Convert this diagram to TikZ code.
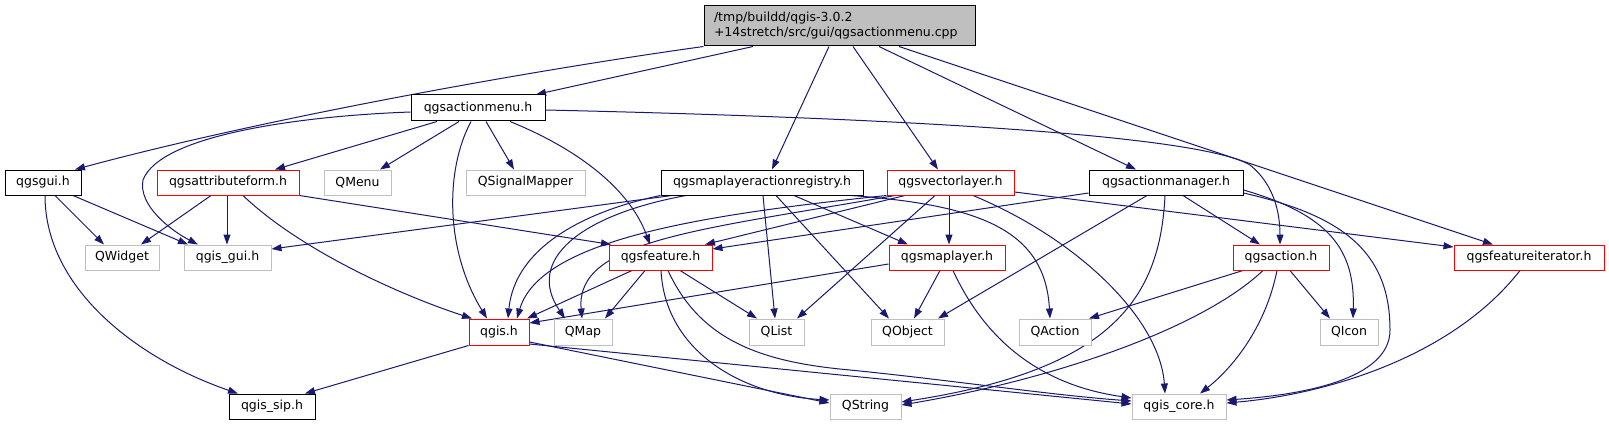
\documentclass[tikz,border=0pt]{standalone}
\usepackage{fontspec}
\setmainfont{DejaVu Sans}
\usetikzlibrary{arrows.meta}
\pgfdeclarelayer{bg}
\pgfsetlayers{bg,main}
\definecolor{edgeblue}{HTML}{191970}
\definecolor{greyborder}{HTML}{BFBFBF}
\definecolor{rootfill}{HTML}{BFBFBF}
\definecolor{redborder}{HTML}{FF0000}
\tikzset{
  box/.style={rectangle, line width=1pt, inner sep=0pt, fill=white, font=\fontsize{12.5}{15}\selectfont},
  blacknode/.style={box, draw=black},
  rednode/.style={box, draw=redborder},
  greynode/.style={box, draw=greyborder},
  rootnode/.style={box, draw=black, fill=rootfill, align=left, text width=251pt, inner xsep=10pt},
  edge/.style={draw=edgeblue, line width=1pt, -{Triangle[length=10pt,width=7pt]}, color=edgeblue}
}
\begin{document}
\begin{tikzpicture}[x=1pt,y=-1pt]
\begin{pgfonlayer}{bg}
\fill[white] (0,0) rectangle (1609,425);
\end{pgfonlayer}
\useasboundingbox (0,0) rectangle (1609,425);
% rank 0
\node[rootnode, minimum width=271pt, minimum height=40pt] (root) at (839.5,26) {/tmp/buildd/qgis-3.0.2\\+14stretch/src/gui/qgsactionmenu.cpp};
% rank 1
\node[blacknode, minimum width=134pt, minimum height=26pt] (menu) at (478,108) {qgsactionmenu.h};
% rank 2
\node[blacknode, minimum width=76pt, minimum height=25pt] (gui) at (43,182.5) {qgsgui.h};
\node[rednode, minimum width=142pt, minimum height=25pt] (af) at (228,182.5) {qgsattributeform.h};
\node[greynode, minimum width=67pt, minimum height=25pt] (qmenu) at (357.5,182.5) {QMenu};
\node[greynode, minimum width=119pt, minimum height=25pt] (qsm) at (525.5,182.5) {QSignalMapper};
\node[blacknode, minimum width=202pt, minimum height=25pt] (reg) at (762,182.5) {qgsmaplayeractionregistry.h};
\node[rednode, minimum width=127pt, minimum height=25pt] (vl) at (950.5,182.5) {qgsvectorlayer.h};
\node[blacknode, minimum width=154pt, minimum height=25pt] (am) at (1166,182.5) {qgsactionmanager.h};
% rank 3
\node[greynode, minimum width=74pt, minimum height=25pt] (qwidget) at (122,257.5) {QWidget};
\node[greynode, minimum width=87pt, minimum height=25pt] (qgisgui) at (227.5,257.5) {qgis\_gui.h};
\node[rednode, minimum width=103pt, minimum height=25pt] (feat) at (660.5,257.5) {qgsfeature.h};
\node[rednode, minimum width=116pt, minimum height=25pt] (ml) at (947,257.5) {qgsmaplayer.h};
\node[rednode, minimum width=96pt, minimum height=25pt] (action) at (1281,257.5) {qgsaction.h};
\node[rednode, minimum width=150pt, minimum height=25pt] (fi) at (1529,257.5) {qgsfeatureiterator.h};
% rank 4
\node[rednode, minimum width=60pt, minimum height=26pt] (qgis) at (499,332) {qgis.h};
\node[greynode, minimum width=58pt, minimum height=26pt] (qmap) at (583,332) {QMap};
\node[greynode, minimum width=55pt, minimum height=26pt] (qlist) at (776.5,332) {QList};
\node[greynode, minimum width=73pt, minimum height=26pt] (qobject) at (907.5,332) {QObject};
\node[greynode, minimum width=72pt, minimum height=26pt] (qaction) at (1055,332) {QAction};
\node[greynode, minimum width=58pt, minimum height=26pt] (qicon) at (1349,332) {QIcon};
% rank 5
\node[blacknode, minimum width=86pt, minimum height=25pt] (sip) at (272,406.5) {qgis\_sip.h};
\node[greynode, minimum width=71pt, minimum height=25pt] (qstring) at (865.5,406.5) {QString};
\node[greynode, minimum width=94pt, minimum height=25pt] (core) at (1179,406.5) {qgis\_core.h};

\begin{pgfonlayer}{bg}
% root
\draw[edge] (753,0 |- root.south) -- (536,0 |- menu.north);
\draw[edge] (root.south west) .. controls (520,72) and (258,120) .. (75,0 |- gui.north);
\draw[edge] (829,0 |- root.south) -- (772,0 |- reg.north);
\draw[edge] (853,0 |- root.south) -- (938,0 |- vl.north);
\draw[edge] (879,0 |- root.south) -- (1136,0 |- am.north);
\draw[edge] (899,0 |- root.south) -- (1493,0 |- fi.north);
% qgsactionmenu.h
\draw[edge] (437,0 |- menu.south) -- (275,0 |- af.north);
\draw[edge] (459,0 |- menu.south) -- (380,0 |- qmenu.north);
\draw[edge] (486,0 |- menu.south) -- (514,0 |- qsm.north);
\draw[edge] (menu.west |- 0,112) .. controls (300,116) and (160,135) .. (143,180) .. controls (138,205) and (170,230) .. (198,0 |- qgisgui.north);
\draw[edge] (471,0 |- menu.south) .. controls (445,170) and (445,250) .. (487,0 |- qgis.north);
\draw[edge] (510,0 |- menu.south) .. controls (580,150) and (630,190) .. (650,0 |- feat.north);
\draw[edge] (menu.east |- 0,110) .. controls (900,118) and (1200,135) .. (1250,165) .. controls (1275,185) and (1280,215) .. (1280,0 |- action.north);
% qgsgui.h
\draw[edge] (55,0 |- gui.south) -- (104,0 |- qwidget.north);
\draw[edge] (73,0 |- gui.south) -- (188,0 |- qgisgui.north);
\draw[edge] (45,0 |- gui.south) .. controls (45,290) and (140,360) .. (238,0 |- sip.north);
% qgsattributeform.h
\draw[edge] (211,0 |- af.south) -- (141,0 |- qwidget.north);
\draw[edge] (227,0 |- af.south) -- (227,0 |- qgisgui.north);
\draw[edge] (243,0 |- af.south) .. controls (300,250) and (400,295) .. (472,0 |- qgis.north);
\draw[edge] (af.south east) -- (611,0 |- feat.north);
% qgsmaplayeractionregistry.h
\draw[edge] (672,0 |- reg.south) -- (qgisgui.east |- 0,249);
\draw[edge] (reg.south west) .. controls (590,210) and (515,245) .. (508,0 |- qgis.north);
\draw[edge] (686,0 |- reg.south) .. controls (580,215) and (525,260) .. (565,0 |- qmap.north);
\draw[edge] (763,0 |- reg.south) -- (775,0 |- qlist.north);
\draw[edge] (776,0 |- reg.south) -- (889,0 |- qobject.north);
\draw[edge] (794,0 |- reg.south) -- (908,0 |- ml.north);
\draw[edge] (851,0 |- reg.south) .. controls (980,205) and (1045,230) .. (1050,0 |- qaction.north);
% qgsvectorlayer.h
\draw[edge] (vl.south west) .. controls (700,215) and (540,240) .. (517,0 |- qgis.north);
\draw[edge] (895,0 |- vl.south) .. controls (700,230) and (575,240) .. (582,0 |- qmap.north);
\draw[edge] (905,0 |- vl.south) -- (705,0 |- feat.north);
\draw[edge] (949,0 |- vl.south) -- (949,0 |- ml.north);
\draw[edge] (935,0 |- vl.south) -- (797,0 |- qlist.north);
\draw[edge] (973,0 |- vl.south) .. controls (1080,240) and (1160,320) .. (1165,0 |- core.north);
\draw[edge] (vl.east |- 0,192) -- (fi.west |- 0,247);
% qgsactionmanager.h
\draw[edge] (am.west |- 0,193) -- (feat.east |- 0,249);
\draw[edge] (1147,0 |- am.south) -- (938,0 |- qobject.north);
\draw[edge] (1165,0 |- am.south) .. controls (1160,300) and (1110,370) .. (qstring.east |- 0,402);
\draw[edge] (1183,0 |- am.south) -- (1260,0 |- action.north);
\draw[edge] (am.east |- 0,190) .. controls (1330,215) and (1355,250) .. (1353,0 |- qicon.north);
\draw[edge] (am.east |- 0,193) .. controls (1340,215) and (1390,250) .. (1390,330) .. controls (1390,380) and (1300,395) .. (core.east |- 0,400);
% qgsaction.h
\draw[edge] (1243,0 |- action.south) -- (1089,0 |- qaction.north);
\draw[edge] (1263,0 |- action.south) .. controls (1200,330) and (1050,380) .. (qstring.east |- 0,405);
\draw[edge] (1277,0 |- action.south) .. controls (1265,330) and (1230,370) .. (1200,0 |- core.north);
\draw[edge] (1290,0 |- action.south) -- (1330,0 |- qicon.north);
% qgsfeature.h
\draw[edge] (632,0 |- feat.south) -- (527,0 |- qgis.north);
\draw[edge] (645,0 |- feat.south) -- (605,0 |- qmap.north);
\draw[edge] (680,0 |- feat.south) -- (757,0 |- qlist.north);
\draw[edge] (661,0 |- feat.south) .. controls (665,350) and (740,395) .. (qstring.west |- 0,400);
\draw[edge] (668,0 |- feat.south) .. controls (700,340) and (760,362) .. (850,370) .. controls (950,380) and (1050,395) .. (core.west |- 0,401);
% qgsmaplayer.h
\draw[edge] (ml.west |- 0,264) -- (qgis.east |- 0,323);
\draw[edge] (940,0 |- ml.south) -- (914,0 |- qobject.north);
\draw[edge] (953,0 |- ml.south) .. controls (985,340) and (1040,385) .. (core.west |- 0,398);
% qgis.h
\draw[edge] (qgis.south west) -- (305,0 |- sip.north);
\draw[edge] (qgis.east |- 0,342) -- (qstring.west |- 0,403);
\draw[edge] (qgis.east |- 0,344) -- (core.west |- 0,404);
% qgsfeatureiterator.h
\draw[edge] (1520,0 |- fi.south) .. controls (1450,360) and (1320,395) .. (core.east |- 0,403);
\end{pgfonlayer}
\end{tikzpicture}
\end{document}
